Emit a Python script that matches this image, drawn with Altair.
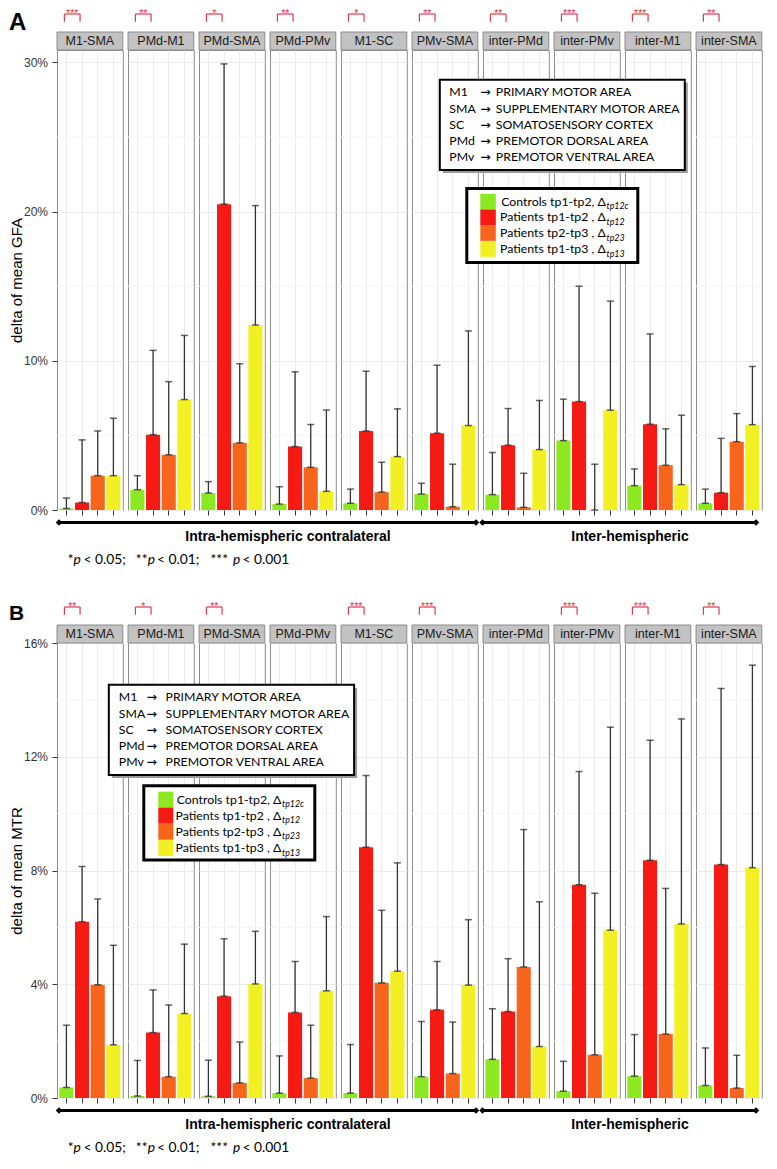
import altair as alt
import pandas as pd

# ---------------- data ----------------
PANELS = ["M1-SMA", "PMd-M1", "PMd-SMA", "PMd-PMv", "M1-SC", "PMv-SMA",
          "inter-PMd", "inter-PMv", "inter-M1", "inter-SMA"]
SERIES = ["Controls tp1-tp2", "Patients tp1-tp2", "Patients tp2-tp3", "Patients tp1-tp3"]
COLORS = ["#8CE820", "#F51B14", "#F7651C", "#F2F022"]

# Panel A: delta of mean GFA (%) - bar value and top of error bar
GFA_CONTROLS = [0.1, 1.36, 1.14, 0.4, 0.45, 1.07, 1.03, 4.65, 1.63, 0.45]
GFA_P12 = [0.5, 5.05, 20.5, 4.25, 5.3, 5.15, 4.34, 7.27, 5.75, 1.16]
GFA_P23 = [2.3, 3.7, 4.5, 2.86, 1.2, 0.22, 0.18, 0.0, 3.0, 4.58]
GFA_P13 = [2.3, 7.4, 12.4, 1.25, 3.58, 5.66, 4.05, 6.69, 1.7, 5.72]
GFA_CONTROLS_UP = [0.8, 2.3, 1.9, 1.56, 1.4, 1.79, 3.85, 7.43, 2.75, 1.4]
GFA_P12_UP = [4.7, 10.7, 29.9, 9.26, 9.3, 9.7, 6.8, 15.0, 11.8, 4.8]
GFA_P23_UP = [5.3, 8.6, 9.8, 5.73, 3.2, 3.07, 2.46, 3.07, 5.44, 6.46]
GFA_P13_UP = [6.15, 11.7, 20.4, 6.7, 6.78, 12.0, 7.34, 14.0, 6.35, 9.62]
GFA_SIG = ["***", "**", "*", "**", "*", "**", "**", "***", "***", "**"]

# Panel B: delta of mean MTR (%)
MTR_CONTROLS = [0.37, 0.07, 0.06, 0.17, 0.17, 0.75, 1.36, 0.24, 0.77, 0.44]
MTR_P12 = [6.2, 2.3, 3.58, 3.01, 8.82, 3.1, 3.04, 7.5, 8.36, 8.21]
MTR_P23 = [3.98, 0.75, 0.53, 0.7, 4.05, 0.86, 4.61, 1.52, 2.25, 0.35]
MTR_P13 = [1.87, 2.97, 4.01, 3.77, 4.46, 3.97, 1.81, 5.9, 6.12, 8.1]
MTR_CONTROLS_UP = [2.56, 1.32, 1.33, 1.48, 1.88, 2.69, 3.14, 1.29, 2.23, 1.76]
MTR_P12_UP = [8.14, 3.8, 5.6, 4.8, 11.34, 4.8, 4.9, 11.48, 12.58, 14.4]
MTR_P23_UP = [7.0, 3.27, 1.97, 2.56, 6.6, 2.67, 9.44, 7.2, 7.37, 1.5]
MTR_P13_UP = [5.37, 5.41, 5.86, 6.38, 8.27, 6.27, 6.9, 13.04, 13.33, 15.22]
MTR_SIG = ["**", "*", "**", "", "***", "***", "", "***", "***", "**"]

GFA_TICKS = [0, 10, 20, 30]
GFA_MINOR = [5, 15, 25]
MTR_TICKS = [0, 4, 8, 12, 16]
MTR_MINOR = [2, 6, 10, 14]

LETTERS = ["A", "B"]
YTITLES = ["delta of mean GFA", "delta of mean MTR"]
GROUPS = ["Intra-hemispheric contralateral", "Inter-hemispheric"]
ABBREV = ["M1", "SMA", "SC", "PMd", "PMv"]
ABBREV_FULL = ["PRIMARY MOTOR AREA", "SUPPLEMENTARY MOTOR AREA", "SOMATOSENSORY CORTEX",
               "PREMOTOR DORSAL AREA", "PREMOTOR VENTRAL AREA"]
ARROW = "\u2192"
LEGEND_MAIN = ["Controls tp1-tp2, \u0394", "Patients tp1-tp2 , \u0394",
               "Patients tp2-tp3 , \u0394", "Patients tp1-tp3 , \u0394"]
LEGEND_SUB = ["tp12c", "tp12", "tp23", "tp13"]
FOOT_TEXT = ["*", "p", "< 0.05;", "**", "p", "< 0.01;", "***", "p", "< 0.001"]
FOOT_ITALIC = [False, True, False, False, True, False, False, True, False]

# ---------------- layout / style ----------------
W = 65.8
G = 5.0
STEP = W + G
BARSTEP = W / 4.2
RED = "#E2374F"
GRID = "#EBEBEB"
MINORGRID = "#F4F4F4"
SANS = "Liberation Sans"
CAL = "Lato"
LEG_FS = 12.3
LEFT = -48
FOOT_X = [16.5, 16.6, 26.5, 90.5, 90.7, 100.0, 171.0, 176.0, 185.5]
FOOT_ALIGN = ["right", "left", "left", "right", "left", "left", "right", "left", "left"]
BR_TOP, BR_BOT, STAR_TOP = -36.0, -28.3, -41.3


def one(v="x"):
    return pd.DataFrame({"t": [v]})


def txt(text, x, y, size, font=CAL, weight="normal", align="left",
        baseline="middle", color="black", style="normal"):
    return alt.Chart(one(text)).mark_text(
        align=align, baseline=baseline, font=font, fontSize=size,
        fontWeight=weight, fontStyle=style, color=color
    ).encode(text="t:N", x=alt.value(x), y=alt.value(y))


def box(x0, x1, y0, y1, fill, stroke=None, sw=0):
    kw = {"fill": fill}
    if stroke:
        kw.update(stroke=stroke, strokeWidth=sw)
    else:
        kw.update(strokeWidth=0)
    return alt.Chart(one()).mark_rect(**kw).encode(
        x=alt.value(x0), x2=alt.value(x1), y=alt.value(y0), y2=alt.value(y1))


def hline(x0, x1, y, color="black", sw=3):
    return alt.Chart(one()).mark_rule(color=color, strokeWidth=sw).encode(
        x=alt.value(x0), x2=alt.value(x1), y=alt.value(y))


def diamond(x, y):
    return alt.Chart(one()).mark_point(shape="diamond", filled=True, size=42,
                                       color="black", opacity=1).encode(
        x=alt.value(x), y=alt.value(y))


def section(idx, means, ups, sigs, ymax, H, ticks, minor, geo):
    rows = []
    for p, name in enumerate(PANELS):
        for s, ser in enumerate(SERIES):
            rows.append({"panel": name, "series": ser,
                         "mean": means[s][p], "upper": ups[s][p]})
    df = pd.DataFrame(rows)
    xs = alt.Scale(domain=SERIES, paddingInner=0.1, paddingOuter=0.15)
    ys = alt.Scale(domain=[0, ymax], nice=False, zero=False)
    cs = alt.Scale(domain=SERIES, range=COLORS)
    xaxis = alt.Axis(labels=False, ticks=True, tickSize=5, tickColor="#333333",
                     tickWidth=1, domain=False, grid=True, gridColor=GRID,
                     bandPosition=0.5)
    panels = []
    for p, name in enumerate(PANELS):
        d = df[df.panel == name]
        if p == 0:
            yaxis = alt.Axis(values=ticks, labelExpr="datum.value + '%'",
                             labelFont=SANS, labelFontSize=12, labelColor="#333333",
                             labelPadding=4.5, tickColor="#333333", tickSize=5,
                             domain=False, grid=True, gridColor=GRID,
                             titleFont=SANS, titleFontSize=15, titleFontWeight="normal",
                             titleColor="black", titleX=LEFT + 12, titleY=H / 2,
                             titleBaseline="alphabetic")
            ytitle = YTITLES[idx]
        else:
            yaxis = alt.Axis(values=ticks, labels=False, ticks=False, domain=False,
                             grid=True, gridColor=GRID)
            ytitle = None

        def X(f):
            return alt.X(f, type="nominal", scale=xs, axis=xaxis, title=None)

        def Y(f):
            return alt.Y(f, type="quantitative", scale=ys, axis=yaxis, title=ytitle)

        layers = [
            alt.Chart(pd.DataFrame({"v": minor})).mark_rule(
                color=MINORGRID, strokeWidth=1).encode(y=Y("v")),
            alt.Chart(d).mark_bar().encode(
                x=X("series"), y=Y("mean"),
                color=alt.Color("series:N", scale=cs, legend=None)),
            alt.Chart(d).mark_rule(color="#333333", strokeWidth=1.3).encode(
                x=X("series"), y=Y("mean"), y2=alt.Y2("upper")),
            alt.Chart(d).mark_tick(color="#222222", size=7, thickness=1.5,
                                   orient="horizontal").encode(x=X("series"), y=Y("mean")),
            alt.Chart(d).mark_tick(color="#222222", size=7, thickness=1.5,
                                   orient="horizontal").encode(x=X("series"), y=Y("upper")),
            box(0, W, -18, 0, "#C2C2C2", "#8C8C8C", 1),
            txt(name, W / 2, -9, 12.5, font=SANS, align="center", color="#1A1A1A"),
        ]
        if sigs[p]:
            br = pd.DataFrame({"pos": [SERIES[0], SERIES[1]]})
            layers += [
                alt.Chart(br).mark_line(color=RED, strokeWidth=1.2, xOffset=-2).encode(
                    x=X("pos"), y=alt.value(BR_TOP)),
                alt.Chart(br).mark_rule(color=RED, strokeWidth=1.2, xOffset=-2).encode(
                    x=X("pos"), y=alt.value(BR_TOP), y2=alt.value(BR_BOT)),
                alt.Chart(pd.DataFrame({"pos": [SERIES[0]], "stars": [sigs[p]]})).mark_text(
                    color=RED, fontSize=10.5, font=SANS, baseline="top",
                    dx=BARSTEP / 2 - 2).encode(
                    x=X("pos"), y=alt.value(STAR_TOP), text="stars:N"),
            ]
        if p == 0:
            lsize, ltop = geo["letter"]
            layers.append(txt(LETTERS[idx], LEFT, ltop, lsize, font=SANS,
                              weight="bold", baseline="top"))
            ly = H + 12.5
            for (a, b) in [(2, 419), (425.5, 699)]:
                layers += [hline(a, b, ly), diamond(a, ly), diamond(b, ly)]
            layers.append(txt(GROUPS[0], 231, H + 27.3, 14, font=SANS, weight="bold",
                              align="center"))
            layers.append(txt(GROUPS[1], 573, H + 27.3, 14, font=SANS, weight="bold",
                              align="center"))
            for t, it, fx, fa in zip(FOOT_TEXT, FOOT_ITALIC, FOOT_X, FOOT_ALIGN):
                layers.append(txt(t, fx, H + geo["foot"], 13.8, font=CAL, align=fa,
                                  style="italic" if it else "normal"))
        if p == len(PANELS) - 1:
            ox = -(len(PANELS) - 1) * STEP
            g = geo
            bx0, bx1, by0, by1 = g["abox"]
            layers += [box(ox + bx0 + 3, ox + bx1 + 3, by0 + 3, by1 + 3, "#9A9A9A"),
                       box(ox + bx0, ox + bx1, by0, by1, "white", "black", 2)]
            for i in range(5):
                yy = g["alines"][i]
                layers += [txt(ABBREV[i], ox + g["acols"][0], yy, LEG_FS),
                           txt(ARROW, ox + g["acols"][1], yy, LEG_FS, font="DejaVu Sans"),
                           txt(ABBREV_FULL[i], ox + g["acols"][2], yy, LEG_FS)]
            cx0, cx1, cy0, cy1 = g["cbox"]
            layers.append(box(ox + cx0, ox + cx1, cy0, cy1, "white", "black", 3))
            sq0, sq1 = g["sqx"]
            lines = g["clines"]
            sp = (lines[-1] - lines[0]) / 3
            for i in range(4):
                yy = lines[i]
                layers += [box(ox + sq0, ox + sq1, yy - sp / 2, yy + sp / 2, COLORS[i]),
                           txt(LEGEND_MAIN[i], ox + g["dend"], yy, LEG_FS, align="right"),
                           txt(LEGEND_SUB[i], ox + g["dend"] + 0.8, yy + 4.5, 8.8,
                               style="italic")]
        panels.append(alt.layer(*layers).properties(width=W, height=H))
    return alt.hconcat(*panels, spacing=G, bounds="flush")


GEO_A = {
    "letter": (24, -39.5),
    "abox": (381.0, 626.0, 29.7, 120.0),
    "alines": [42.4, 59.0, 75.0, 91.0, 106.7],
    "acols": [390.5, 421.5, 437.0],
    "cbox": (408.0, 579.0, 138.4, 212.4),
    "sqx": (421.5, 437.0),
    "clines": [151.7, 167.4, 183.0, 199.0],
    "dend": 547.0,
    "foot": 50.0,
}
GEO_B = {
    "letter": (21, -40.0),
    "abox": (50.0, 295.3, 41.7, 132.0),
    "alines": [54.4, 71.0, 87.0, 102.7, 119.4],
    "acols": [60.0, 87.8, 106.7],
    "cbox": (85.0, 256.0, 142.7, 217.0),
    "sqx": (99.5, 114.5),
    "clines": [156.7, 172.7, 188.7, 205.0],
    "dend": 222.5,
    "foot": 50.0,
}

HA = 460.0
HB = 455.0
secA = section(0, [GFA_CONTROLS, GFA_P12, GFA_P23, GFA_P13],
               [GFA_CONTROLS_UP, GFA_P12_UP, GFA_P23_UP, GFA_P13_UP],
               GFA_SIG, 30.83, HA, GFA_TICKS, GFA_MINOR, GEO_A)
secB = section(1, [MTR_CONTROLS, MTR_P12, MTR_P23, MTR_P13],
               [MTR_CONTROLS_UP, MTR_P12_UP, MTR_P23_UP, MTR_P13_UP],
               MTR_SIG, 16.0, HB, MTR_TICKS, MTR_MINOR, GEO_B)

chart = alt.vconcat(secA, secB, spacing=593.0, bounds="flush").properties(
    padding={"left": 0, "top": 0, "right": 0, "bottom": 0}
).configure_view(stroke="#8C8C8C", strokeWidth=1)

chart.save("out.html", embed_options={"renderer": "svg", "actions": False})
